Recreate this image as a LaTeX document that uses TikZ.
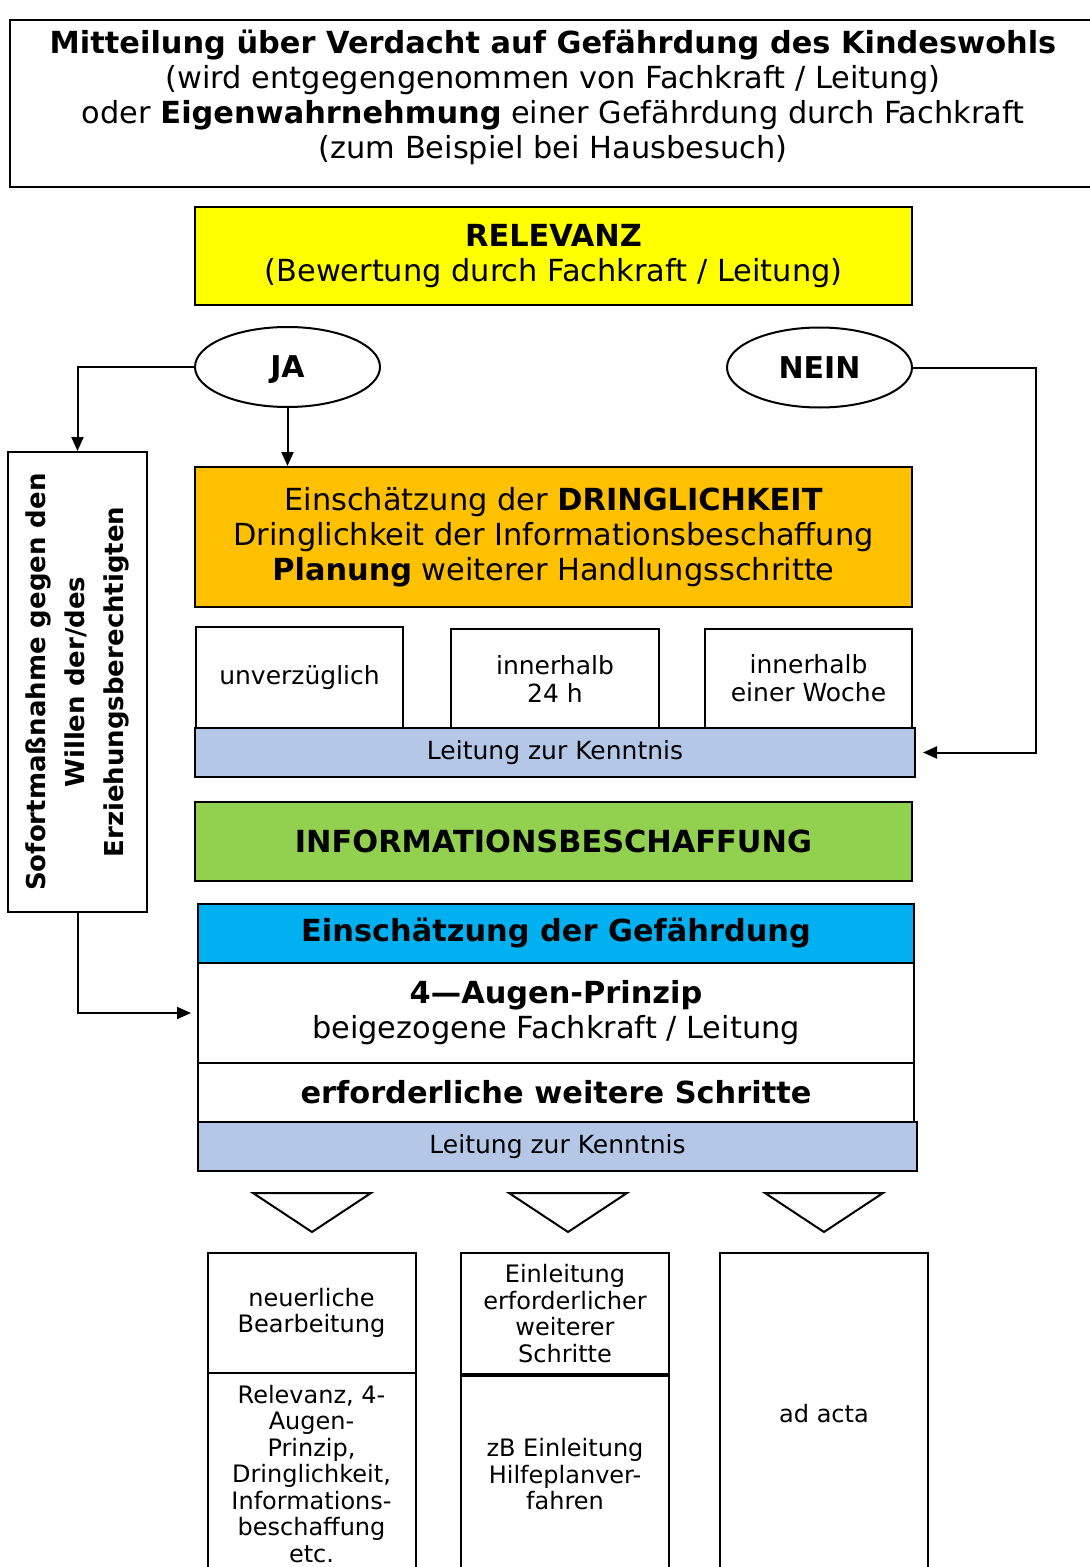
\documentclass[tikz,border=0pt]{standalone}
\usepackage{fontspec}
\setmainfont{DejaVu Sans}
\usepackage{tikz}
\usetikzlibrary{arrows.meta,positioning,calc,shapes.geometric}
\definecolor{relgelb}{RGB}{255,255,0}
\definecolor{dringorange}{RGB}{255,192,0}
\definecolor{infogruen}{RGB}{146,208,80}
\definecolor{gefblau}{RGB}{0,176,240}
\definecolor{leitblau}{RGB}{180,199,231}

\begin{document}
\begin{tikzpicture}[x=0.5pt,y=-0.5pt,
boxed/.style={draw,line width=1pt,align=center,inner sep=0pt,font=\fontsize{15.2}{17.5}\selectfont},
smallbox/.style={boxed,font=\fontsize{12.5}{14}\selectfont},
bar/.style={smallbox,fill=leitblau},
oval/.style={ellipse,draw,line width=1pt,minimum width=92.5pt,minimum height=40pt,inner sep=0pt,
  text height=10.9pt,text depth=0pt,font=\bfseries\fontsize{15}{18}\selectfont},
endbox/.style={boxed,minimum width=104pt,font=\fontsize{12}{13.25}\selectfont},
arr/.style={line width=1pt,-{Triangle[length=7pt,width=6pt]}}]
\useasboundingbox (0,0) rectangle (1089,1567);
% Kopf
\node[boxed,minimum width=543pt,minimum height=83.5pt] (top) at (553,103.5) {};
\node[align=center,font=\fontsize{15.2}{17.5}\selectfont] (toptext) at (553,97.5)
  {\textbf{Mitteilung über Verdacht auf Gefährdung des Kindeswohls}\\
   (wird entgegengenommen von Fachkraft / Leitung)\\
   oder \textbf{Eigenwahrnehmung} einer Gefährdung durch Fachkraft\\
   (zum Beispiel bei Hausbesuch)};
\node[boxed,fill=relgelb,minimum width=358.5pt,minimum height=49pt] (relevanz) at (553.5,256)
  {\textbf{RELEVANZ}\\(Bewertung durch Fachkraft / Leitung)};
\node[oval] (ja) at (287.5,367) {JA};
\node[oval] (nein) at (819.5,367.5) {NEIN};
\node[boxed,fill=dringorange,minimum width=358.5pt,minimum height=70pt] (dring) at (553.5,537)
  {Einschätzung der \textbf{DRINGLICHKEIT}\\Dringlichkeit der Informationsbeschaffung\\\textbf{Planung} weiterer Handlungsschritte};
\node[boxed,rotate=90,minimum width=230pt,minimum height=69.5pt,font=\bfseries\fontsize{13}{19.5}\selectfont] (sofort) at (77.5,682)
  {Sofortmaßnahme gegen den\\Willen der/des\\Erziehungsberechtigten};
% Fristen
\foreach \n/\x/\y/\w/\h/\t in {u1/299.5/677.5/103.5/50.5/unverzüglich,
  u2/555/678.5/104/49.5/innerhalb\\24 h,u3/808.5/678.5/103.5/49.5/innerhalb\\einer Woche}
  \node[smallbox,minimum width=\w pt,minimum height=\h pt] (\n) at (\x,\y) {\t};
\node[bar,minimum width=360pt,minimum height=24.5pt] (kenntnisA) at (555,752.5) {Leitung zur Kenntnis};
\node[boxed,fill=infogruen,minimum width=358.5pt,minimum height=39.5pt] (info) at (553.5,841.5)
  {\textbf{INFORMATIONSBESCHAFFUNG}};
\node[boxed,fill=gefblau,minimum width=358pt,minimum height=29.5pt] (gef) at (556,933.5)
  {\textbf{Einschätzung der Gefährdung}};
\node[boxed,minimum width=358pt,minimum height=50pt] (augen) at (556,1013)
  {\textbf{4—Augen-Prinzip}\\beigezogene Fachkraft / Leitung};
\node[boxed,minimum width=358pt,minimum height=29.5pt] (schritte) at (556,1092.5)
  {\textbf{erforderliche weitere Schritte}};
\node[bar,minimum width=359.5pt,minimum height=24.5pt] (kenntnisB) at (557.5,1146.5) {Leitung zur Kenntnis};
% Dreiecke
\foreach \x in {312,568,824}
  \draw[line width=1pt] (\x-59,1193) -- (\x+59,1193) -- (\x,1232) -- cycle;
% Ergebnisse
\node[endbox,minimum height=60pt] (neu) at (311.5,1313) {neuerliche\\Bearbeitung};
\node[endbox,minimum height=101pt] (neuB) at (311.5,1474)
  {Relevanz, 4-\\Augen-\\Prinzip,\\Dringlichkeit,\\Informations-\\beschaffung\\etc.};
\node[endbox,minimum height=60.5pt] (ein) at (565,1313.5) {Einleitung\\erforderlicher\\weiterer\\Schritte};
\node[endbox,minimum height=100.5pt] (einB) at (565,1474.5) {zB Einleitung\\Hilfeplanver-\\fahren};
\node[endbox,minimum height=161pt] (acta) at (824,1414) {ad acta};
\draw[line width=2pt] (ein.south west) -- (ein.south east);
% Pfeile
\draw[arr] (ja.west) -| (sofort.east);
\draw[arr] (ja.south) -- (ja.south |- dring.north);
\draw[arr,shorten >=3.5pt] (nein.east) -- ++(123,0) |- (kenntnisA.east);
\draw[arr,shorten >=3pt] (sofort.west) |- (augen.west);
\end{tikzpicture}
\end{document}
